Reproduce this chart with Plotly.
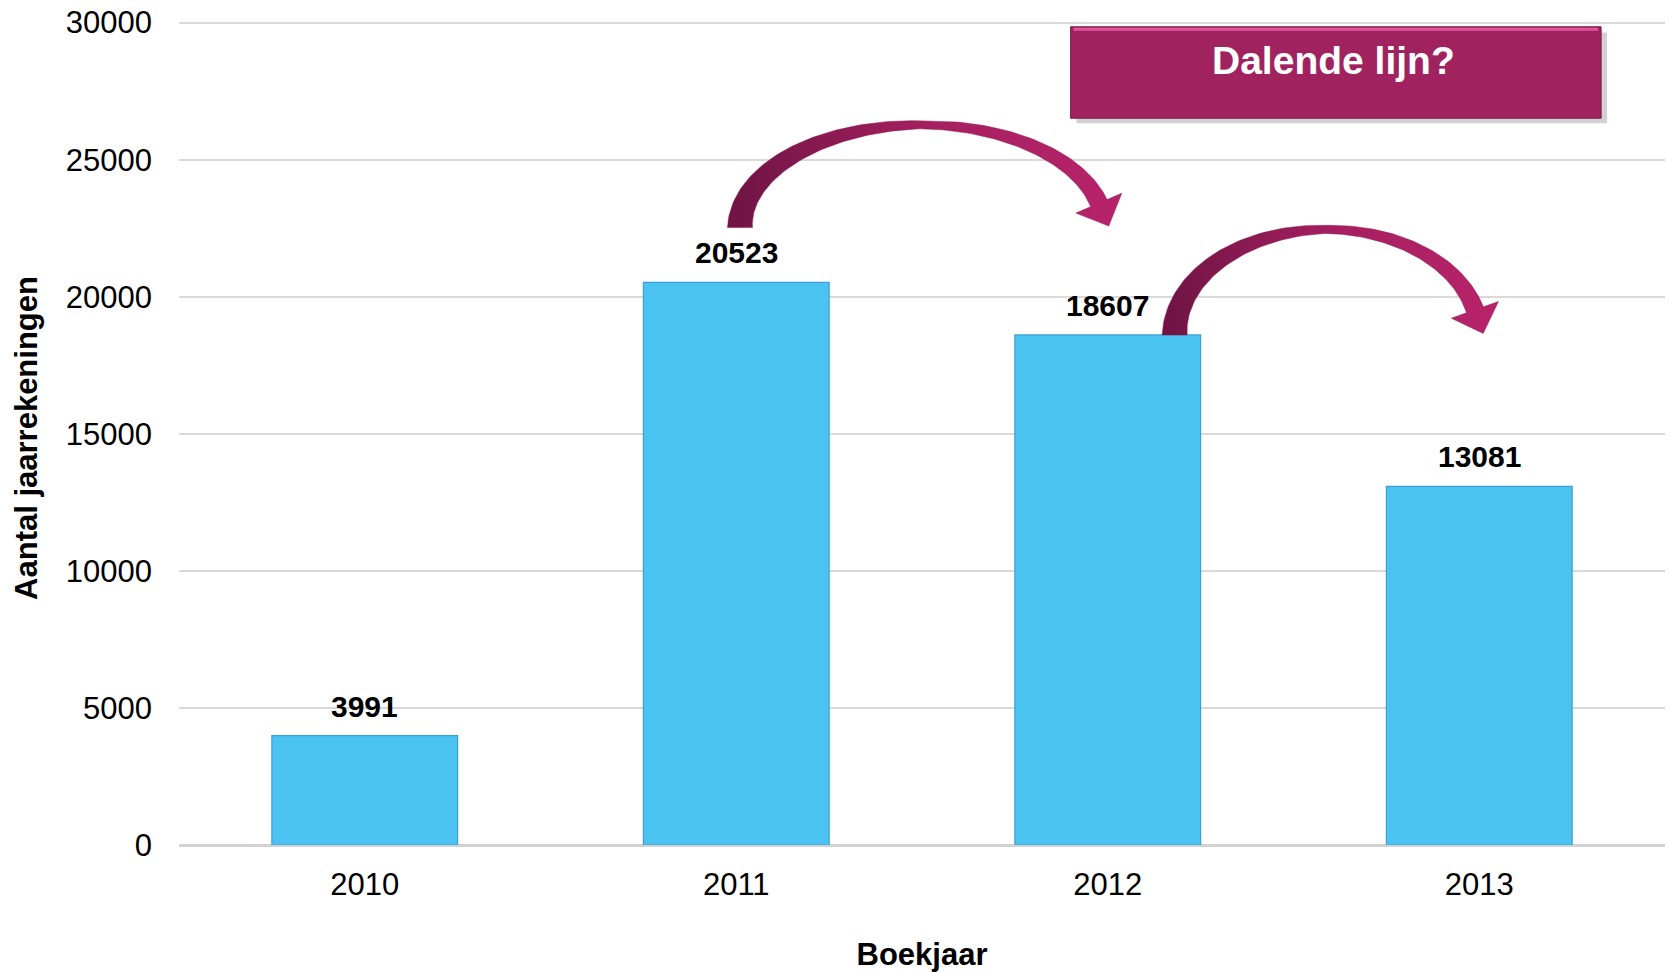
import numpy as np
import plotly.graph_objects as go

# ---------------- data ----------------
years = ["2010", "2011", "2012", "2013"]
counts = [3991, 20523, 18607, 13081]
y_ticks = [0, 5000, 10000, 15000, 20000, 25000, 30000]
x_title = "Boekjaar"
y_title = "Aantal jaarrekeningen"
callout_text = "Dalende lijn?"

# ---------------- layout geometry ----------------
W, H = 1669, 972
M = dict(l=179, r=4, t=21, b=127)
x_range = [-0.5, len(years) - 0.5]
y_range = [0, 30060]
px_per_x = (W - M["l"] - M["r"]) / (x_range[1] - x_range[0])
px_per_y = (H - M["t"] - M["b"]) / (y_range[1] - y_range[0])

FONT = "Liberation Sans, Arial, sans-serif"
xs = list(range(len(years)))

fig = go.Figure()

fig.add_trace(go.Bar(
    x=xs, y=counts, width=0.5,
    marker=dict(color="#4AC3F0", line=dict(color="#3C9FD3", width=1.2)),
    hoverinfo="x+y", showlegend=False,
))

# data labels
for xi, v in zip(xs, counts):
    fig.add_annotation(x=xi, y=v, text=f"<b>{v}</b>", showarrow=False,
                       yanchor="bottom", yshift=11,
                       font=dict(family=FONT, size=30, color="black"))


# ---------------- curved arrows (decoration) ----------------
def arrow_polygon(cx, cy, rx, ry, t_end, w0, wmid, w1, head_w, head_l):
    CX, CY, RX, RY = cx * px_per_x, cy * px_per_y, rx * px_per_x, ry * px_per_y
    t = np.linspace(np.pi, t_end, 120)
    P = np.stack([CX + RX * np.cos(t), CY + RY * np.sin(t)], axis=1)
    T = np.stack([RX * np.sin(t), -RY * np.cos(t)], axis=1)
    T /= np.linalg.norm(T, axis=1, keepdims=True)
    N = np.stack([-T[:, 1], T[:, 0]], axis=1)
    s = (np.pi - t) / (np.pi - t_end)
    s_peak = (np.pi / 2) / (np.pi - t_end)
    w = np.interp(s, [0, s_peak, 1], [w0, wmid, w1])
    left = P + N * (w[:, None] / 2)
    right = P - N * (w[:, None] / 2)
    E, Te, Ne = P[-1], T[-1], N[-1]
    head = np.array([E + Ne * head_w / 2, E + Te * head_l, E - Ne * head_w / 2])
    poly = np.vstack([left, head, right[::-1], left[:1]])
    return poly[:, 0] / px_per_x, poly[:, 1] / px_per_y


arrow_specs = [
    dict(cx=1.5, cy=counts[1] + 2000, rx=0.49, ry=3750, t_end=0.24,
         w0=25, wmid=8, w1=18, head_w=50, head_l=25),
    dict(cx=2.59, cy=counts[2], rx=0.41, ry=3850, t_end=0.24,
         w0=25, wmid=8, w1=18, head_w=50, head_l=25),
]
for spec in arrow_specs:
    ax_, ay_ = arrow_polygon(**spec)
    fig.add_trace(go.Scatter(
        x=ax_, y=ay_, mode="lines", fill="toself",
        line=dict(color="rgba(140,25,80,0.6)", width=0.8),
        fillcolor="#A01E5E",
        fillgradient=dict(type="horizontal",
                          colorscale=[[0, "#6E1444"], [0.5, "#A51F60"], [1, "#B8236B"]]),
        hoverinfo="skip", showlegend=False,
    ))

# ---------------- callout box ----------------
fig.add_shape(type="rect", xref="paper", yref="paper",
              x0=0.604, x1=0.961, y0=0.876, y1=0.986,
              fillcolor="rgba(0,0,0,0.18)", line=dict(width=0), layer="above")
fig.add_shape(type="rect", xref="paper", yref="paper",
              x0=0.600, x1=0.957, y0=0.882, y1=0.993,
              fillcolor="#A0235F", line=dict(color="#7A1A48", width=1), layer="above")
fig.add_shape(type="line", xref="paper", yref="paper",
              x0=0.602, x1=0.955, y0=0.990, y1=0.990,
              line=dict(color="#E0569A", width=3), layer="above")
fig.add_annotation(xref="paper", yref="paper", x=0.777, y=0.9526,
                   text=f"<b>{callout_text}</b>", showarrow=False,
                   xanchor="center", yanchor="middle",
                   font=dict(family=FONT, size=39, color="white"))

# y-axis title
fig.add_annotation(xref="paper", yref="paper", x=-0.1023, y=0.494,
                   text=f"<b>{y_title}</b>", showarrow=False, textangle=-90,
                   xanchor="center", yanchor="middle",
                   font=dict(family=FONT, size=31, color="black"))

fig.update_layout(
    width=W, height=H,
    margin=dict(l=M["l"], r=M["r"], t=M["t"], b=M["b"], pad=0, autoexpand=False),
    plot_bgcolor="white", paper_bgcolor="white",
    font=dict(family=FONT, color="black"),
    bargap=0.5,
)
fig.update_xaxes(
    range=x_range, tickvals=xs, ticktext=years, automargin=False,
    showgrid=False, zeroline=False, showline=False, ticks="",
    tickfont=dict(family=FONT, size=31, color="black"),
    ticklabelstandoff=18, ticklabeloverflow="allow",
    title=dict(text=f"<b>{x_title}</b>", font=dict(family=FONT, size=31, color="black"),
               standoff=42),
)
fig.update_yaxes(
    range=y_range, tickvals=y_ticks, ticktext=[str(v) for v in y_ticks], automargin=False,
    showgrid=True, gridcolor="#D9D9D9", gridwidth=1.5,
    zeroline=True, zerolinecolor="#D2D2D2", zerolinewidth=2.5,
    showline=False, ticks="",
    tickfont=dict(family=FONT, size=31, color="black"),
    ticklabelstandoff=26, ticklabeloverflow="allow",
)

fig.write_html("out.html", config={"displayModeBar": False},
               post_script="document.body.style.margin='0';document.body.style.overflow='hidden';")
